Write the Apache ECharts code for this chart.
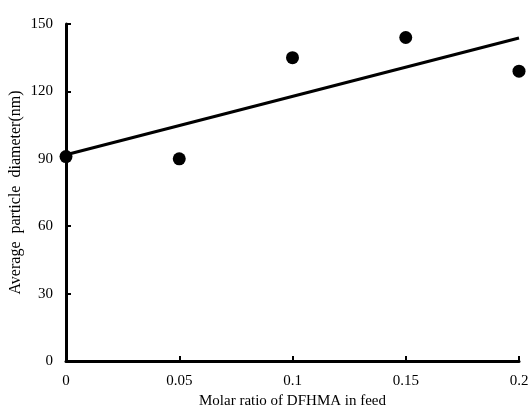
<!DOCTYPE html>
<html>
<head>
<meta charset="utf-8">
<script src="https://cdn.jsdelivr.net/npm/echarts@6/dist/echarts.min.js"></script>
<style>
  html, body { margin: 0; padding: 0; background: #fff; }
  #main { width: 530px; height: 408px; }
</style>
</head>
<body>
<div id="main"></div>
<script>
// measured points
var ratio = [0, 0.05, 0.1, 0.15, 0.2];
var diameter = [91, 90, 135, 144, 129];
// linear trend line ends
var trendX = [0, 0.2];
var trendY = [91.8, 143.8];
var yTicks = [0, 30, 60, 90, 120, 150];

var font = '"Liberation Serif", "Times New Roman", serif';
var myChart = echarts.init(document.getElementById('main'));
myChart.setOption({
    animation: false,
    grid: { left: 66, right: 11, top: 24, bottom: 47, outerBoundsMode: 'none' },
    xAxis: {
        type: 'value',
        min: 0, max: 0.2, interval: 0.05,
        name: 'Molar ratio of DFHMA in feed',
        nameLocation: 'middle',
        nameGap: 31,
        nameTextStyle: { fontFamily: font, fontSize: 15, color: '#000' },
        axisLine: { lineStyle: { color: '#000', width: 3 } },
        axisTick: { inside: true, length: 5, lineStyle: { color: '#000', width: 2 } },
        axisLabel: {
            fontFamily: font, fontSize: 15, color: '#000', margin: 13,
            formatter: function (v) { return String(+v.toFixed(2)); }
        },
        splitLine: { show: false }
    },
    yAxis: {
        type: 'value',
        min: yTicks[0], max: yTicks[yTicks.length - 1], interval: 30,
        name: 'Average  particle  diameter(nm)',
        nameLocation: 'middle',
        nameGap: 42,
        nameMoveOverlap: false,
        nameTextStyle: { fontFamily: font, fontSize: 16, color: '#000' },
        axisLine: { lineStyle: { color: '#000', width: 3 } },
        axisTick: { inside: true, length: 5, lineStyle: { color: '#000', width: 2 } },
        axisLabel: { fontFamily: font, fontSize: 15, color: '#000', margin: 13 },
        splitLine: { show: false }
    },
    series: [
        {
            type: 'line',
            data: trendX.map(function (x, i) { return [x, trendY[i]]; }),
            symbol: 'none',
            lineStyle: { color: '#000', width: 3 },
            z: 2
        },
        {
            type: 'scatter',
            data: ratio.map(function (x, i) { return [x, diameter[i]]; }),
            symbolSize: 13,
            itemStyle: { color: '#000', opacity: 1 },
            z: 3
        }
    ]
});
</script>
</body>
</html>
